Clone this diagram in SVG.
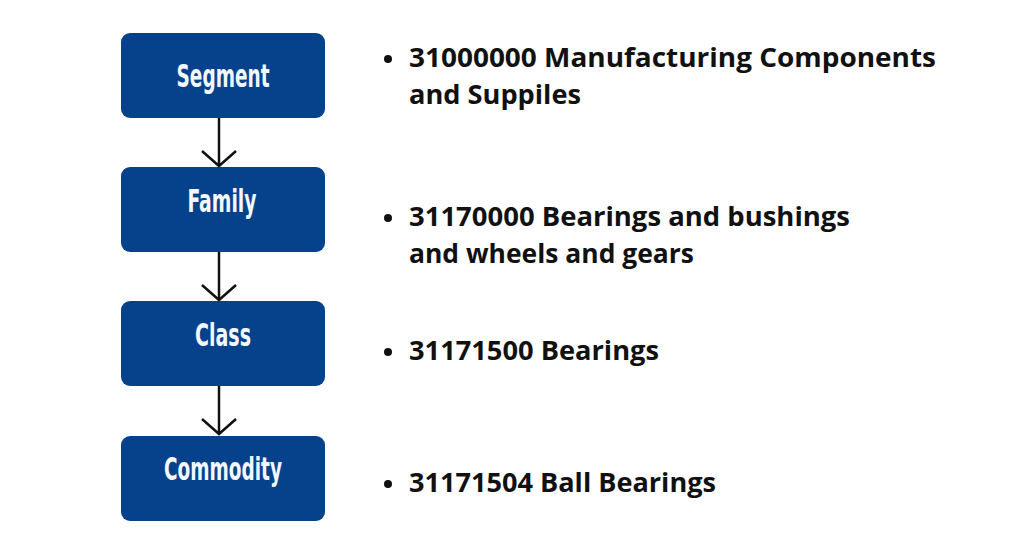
<svg xmlns="http://www.w3.org/2000/svg" width="1024" height="540" viewBox="0 0 1024 540">
<style>
.box{fill:#06428c}
.lbl{font-family:"DejaVu Sans Condensed","DejaVu Sans",sans-serif;font-weight:bold;font-stretch:condensed;font-size:32px;fill:#f3f8fc;text-anchor:middle}
.item{font-family:"Open Sans","Liberation Sans",sans-serif;font-weight:700;font-size:27px;fill:#111}
.arr{stroke:#111;stroke-width:2.5;fill:none}
</style>
<rect width="1024" height="540" fill="#ffffff"/>
<g id="connectors">
<path class="arr" d="M219 118V165M202 151L219 166L236 151"/>
<path class="arr" d="M219 252V299M202 285L219 300L236 285"/>
<path class="arr" d="M219 386V433M202 419L219 434L236 419"/>
</g>
<g id="segment"><rect class="box" x="121" y="33" width="204" height="85" rx="9"/><text class="lbl" x="223" y="87" textLength="93" lengthAdjust="spacingAndGlyphs">Segment</text></g>
<g id="family"><rect class="box" x="121" y="167" width="204" height="85" rx="9"/><text class="lbl" x="222" y="212" textLength="69" lengthAdjust="spacingAndGlyphs">Family</text></g>
<g id="class"><rect class="box" x="121" y="301" width="204" height="85" rx="9"/><text class="lbl" x="223" y="346" textLength="56" lengthAdjust="spacingAndGlyphs">Class</text></g>
<g id="commodity"><rect class="box" x="121" y="436" width="204" height="85" rx="9"/><text class="lbl" x="223" y="480" textLength="118" lengthAdjust="spacingAndGlyphs">Commodity</text></g>
<g id="items">
<circle cx="388" cy="59" r="4" fill="#111"/>
<text class="item" x="409" y="67" textLength="527" lengthAdjust="spacingAndGlyphs">31000000 Manufacturing Components</text>
<text class="item" x="409" y="104" textLength="172" lengthAdjust="spacingAndGlyphs">and Suppiles</text>
<circle cx="388" cy="218" r="4" fill="#111"/>
<text class="item" x="409" y="226" textLength="441" lengthAdjust="spacingAndGlyphs">31170000 Bearings and bushings</text>
<text class="item" x="409" y="263" textLength="285" lengthAdjust="spacingAndGlyphs">and wheels and gears</text>
<circle cx="388" cy="352" r="4" fill="#111"/>
<text class="item" x="409" y="360" textLength="250" lengthAdjust="spacingAndGlyphs">31171500 Bearings</text>
<circle cx="388" cy="484" r="4" fill="#111"/>
<text class="item" x="409" y="492" textLength="307" lengthAdjust="spacingAndGlyphs">31171504 Ball Bearings</text>
</g>
</svg>
